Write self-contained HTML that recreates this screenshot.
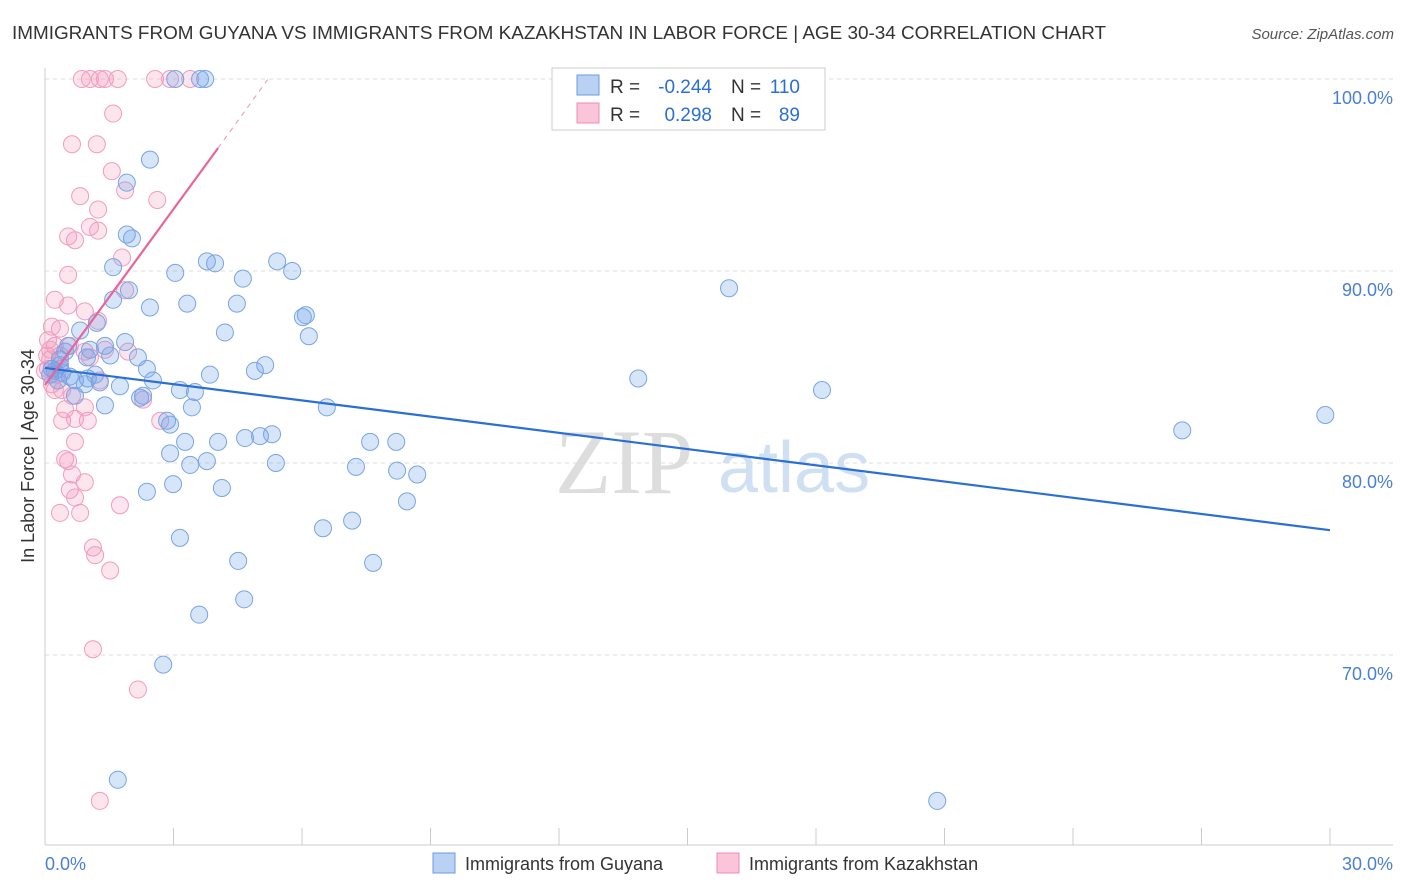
<!DOCTYPE html>
<html><head><meta charset="utf-8"><style>
body{margin:0;background:#fff;font-family:"Liberation Sans",sans-serif}
#c{position:absolute;left:0;top:0}
</style></head><body>
<svg id="c" width="1406" height="892">
<text x="12" y="39" font-size="18.9" fill="#333">IMMIGRANTS FROM GUYANA VS IMMIGRANTS FROM KAZAKHSTAN IN LABOR FORCE | AGE 30-34 CORRELATION CHART</text>
<text x="1394" y="39" font-size="15" fill="#555" font-style="italic" text-anchor="end">Source: ZipAtlas.com</text>
<g><text x="555" y="493" font-size="92" font-family="Liberation Serif" fill="#ddd">ZIP</text><text x="718" y="492" font-size="72" fill="#cfe0f3">atlas</text></g>
<g id="grid"></g>
<g id="axes"></g>
<g id="pts"></g>
<g id="lines"></g>
<text transform="translate(34,456) rotate(-90)" font-size="18" fill="#333" text-anchor="middle">In Labor Force | Age 30-34</text>
<g>
<rect x="552" y="68" width="273" height="62" fill="#fff" stroke="#ccc"/>
<rect x="577" y="75" width="22" height="20" fill="#b9d2f4" stroke="#6a9be0"/>
<rect x="577" y="103" width="22" height="20" fill="#fac5d8" stroke="#f08cb4"/>
<text x="610" y="93" font-size="19" fill="#333">R =</text>
<text x="712" y="93" font-size="19" fill="#2a6fd6" text-anchor="end">-0.244</text>
<text x="731" y="93" font-size="19" fill="#333">N =</text>
<text x="800" y="93" font-size="19" fill="#2a6fd6" text-anchor="end">110</text>
<text x="610" y="121" font-size="19" fill="#333">R =</text>
<text x="712" y="121" font-size="19" fill="#2a6fd6" text-anchor="end">0.298</text>
<text x="731" y="121" font-size="19" fill="#333">N =</text>
<text x="800" y="121" font-size="19" fill="#2a6fd6" text-anchor="end">89</text>
</g>
<g>
<rect x="433" y="853" width="22" height="20" fill="#b9d2f4" stroke="#6a9be0"/>
<text x="465" y="870" font-size="18" fill="#333">Immigrants from Guyana</text>
<rect x="717" y="853" width="22" height="20" fill="#fac5d8" stroke="#f08cb4"/>
<text x="749" y="870" font-size="18" fill="#333">Immigrants from Kazakhstan</text>
</g>
</svg>
<script>
const blueX=[3.04,3.62,3.74,2.45,1.91,1.91,2.03,1.59,3.04,3.78,3.97,4.62,5.42,5.77,2.45,3.32,4.48,1.59,1.96,4.20,6.02,6.09,6.16,1.21,0.82,1.87,1.40,1.52,2.17,0.98,1.05,0.47,0.35,0.23,0.12,0.58,1.00,1.28,1.75,2.52,2.38,3.85,4.90,5.14,3.15,3.50,2.29,2.22,0.70,1.40,3.43,6.58,2.85,2.92,3.27,4.04,4.67,5.02,5.30,2.92,3.39,3.78,5.39,7.26,7.59,8.20,8.22,8.69,8.45,4.13,2.38,2.99,6.49,7.17,3.15,4.51,7.66,4.65,3.60,2.76,1.70,13.85,15.97,18.14,26.55,29.89,20.83,0.35,0.30,0.54,0.70,1.17,0.93,0.16,0.40];
const blueY=[100,100,100,95.8,94.6,91.9,91.7,90.2,89.9,90.5,90.4,89.6,90.5,90.0,88.1,88.3,88.3,88.5,89.0,86.8,87.6,87.7,86.6,87.3,86.9,86.3,86.1,85.6,85.5,85.5,85.9,85.8,85.4,84.8,84.6,84.5,84.4,84.2,84.0,84.3,84.9,84.6,84.8,85.1,83.8,83.7,83.5,83.4,83.5,83.0,82.9,82.9,82.2,82.0,81.1,81.1,81.3,81.4,81.5,80.5,79.9,80.1,80.0,79.8,81.1,81.1,79.6,79.4,78.0,78.7,78.5,78.9,76.6,77.0,76.1,74.9,74.8,72.9,72.1,69.5,63.5,84.4,89.1,83.8,81.7,82.5,62.4,85.1,84.3,86.1,84.3,84.6,84.1,84.9,84.7];
const pinkX=[0.86,1.05,1.28,1.40,1.70,2.57,2.92,3.39,1.59,0.63,1.21,1.56,1.87,2.62,0.82,1.24,1.05,1.24,0.54,0.70,0.54,1.80,0.23,0.54,0.93,1.24,0.35,0.16,0.07,0.23,0.35,0.12,0.12,0.07,0.58,0.93,1.05,1.40,1.94,1.28,0.40,0.63,0.23,0.47,0.93,0.40,0.70,1.00,2.69,2.29,0.70,0.47,0.54,0.63,0.58,0.93,0.70,0.35,0.82,1.75,1.12,1.17,1.52,1.12,2.17,1.28,1.87,0.28,0.16,0.0,0.05,0.35];
const pinkY=[100,100,100,100,100,100,100,100,98.2,96.6,96.6,95.2,94.2,93.7,93.9,93.2,92.3,92.1,91.8,91.6,89.8,90.7,88.5,88.2,87.9,87.4,87.0,87.1,86.4,86.1,85.6,85.9,85.4,84.9,86.1,85.8,85.5,85.9,85.8,84.3,83.8,83.5,83.8,82.8,82.9,82.2,82.3,82.2,82.2,83.3,81.1,80.2,80.1,79.4,78.6,79.0,78.2,77.4,77.4,77.8,75.6,75.2,74.4,70.3,68.2,62.4,89.0,84.6,84.1,84.8,85.6,84.9];
const blueTrend=[[0,84.95],[30,76.5]];
const pinkTrend=[[0,84.06],[4.04,96.4]];
const pinkTrendExt=[[4.04,96.4],[5.2,99.97]];
const yTicks=[100,90,80,70];
const yTickLabels=["100.0%","90.0%","80.0%","70.0%"];
const xTicks=[0,3,6,9,12,15,18,21,24,27,30];
const NS="http://www.w3.org/2000/svg";
const X=v=>45+v*(1285/30), Y=v=>79+(100-v)*19.2;
function mk(t,a,p){const e=document.createElementNS(NS,t);for(const k in a)e.setAttribute(k,a[k]);p.appendChild(e);return e;}
const grid=document.getElementById('grid'),axes=document.getElementById('axes'),pts=document.getElementById('pts'),lines=document.getElementById('lines');
yTicks.forEach((v,i)=>{
 const l=mk('line',{x1:45,x2:1393,y1:Y(v),y2:Y(v),stroke:'#ddd','stroke-dasharray':'4,4'},grid);
 
 
 const t=mk('text',{x:1393,y:Y(v)+25,'font-size':18,fill:'#4a7fd4','text-anchor':'end'},axes);
 t.textContent=yTickLabels[i];
 
 
});
const ya=mk('line',{x1:45,x2:45,y1:68,y2:845,stroke:'#ccc'},axes);


const xa=mk('line',{x1:45,x2:1393,y1:845,y2:845,stroke:'#ccc'},axes);


xTicks.forEach(v=>{const t=mk('line',{x1:X(v),x2:X(v),y1:828,y2:845,stroke:'#ccc'},axes);
 
 });
const x0=mk('text',{x:45,y:870,'font-size':18,fill:'#4a7fd4'},axes);x0.textContent='0.0%';


const x1=mk('text',{x:1393,y:870,'font-size':18,fill:'#4a7fd4','text-anchor':'end'},axes);x1.textContent='30.0%';


pinkX.forEach((v,i)=>{const c=mk('circle',{cx:X(v),cy:Y(pinkY[i]),r:8.5,fill:'rgba(242,150,185,0.25)',stroke:'#f29cbf','stroke-width':1},pts);
 
 });
blueX.forEach((v,i)=>{const c=mk('circle',{cx:X(v),cy:Y(blueY[i]),r:8.5,fill:'rgba(110,160,232,0.28)',stroke:'#78a5e4','stroke-width':1},pts);
 
 });
const bl=mk('line',{x1:X(blueTrend[0][0]),y1:Y(blueTrend[0][1]),x2:X(blueTrend[1][0]),y2:Y(blueTrend[1][1]),stroke:'#2a6fd6','stroke-width':2.2},lines);


const pl=mk('line',{x1:X(pinkTrend[0][0]),y1:Y(pinkTrend[0][1]),x2:X(pinkTrend[1][0]),y2:Y(pinkTrend[1][1]),stroke:'#e8649a','stroke-width':2.2},lines);


const pd=mk('line',{x1:X(pinkTrendExt[0][0]),y1:Y(pinkTrendExt[0][1]),x2:X(pinkTrendExt[1][0]),y2:Y(pinkTrendExt[1][1]),stroke:'#f0a0c0','stroke-width':1.2,'stroke-dasharray':'5,5'},lines);


</script>
</body></html>
